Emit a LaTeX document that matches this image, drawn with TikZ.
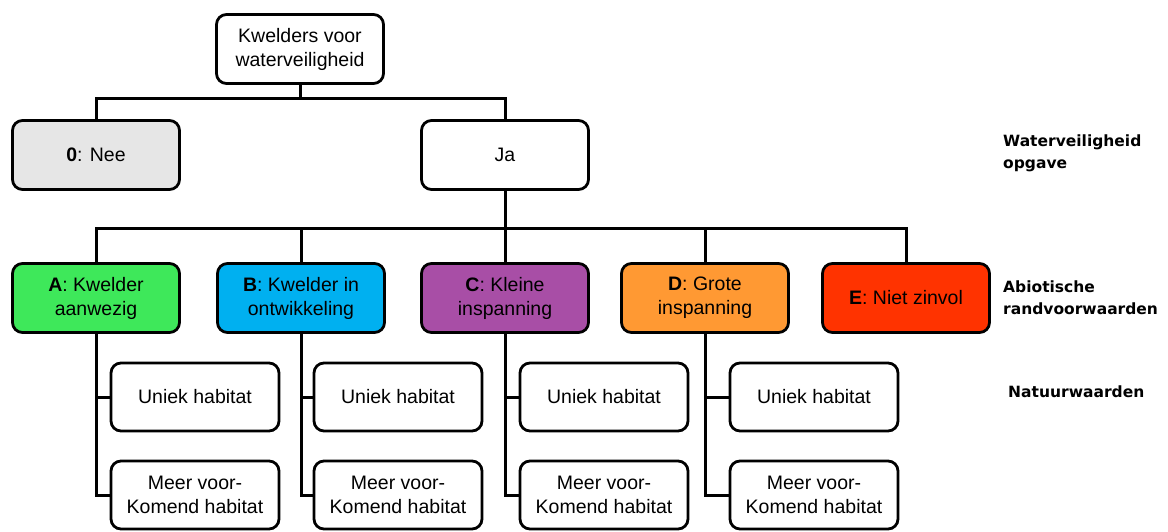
\documentclass[tikz,border=0pt]{standalone}
\usepackage{fontspec}
\setmainfont{Liberation Sans}
\newfontfamily\rowfont{DejaVu Sans}
\usetikzlibrary{shapes.geometric}

\definecolor{neegray}{RGB}{230,230,230}
\definecolor{agreen}{RGB}{62,232,90}
\definecolor{bblue}{RGB}{0,176,240}
\definecolor{cpurple}{RGB}{168,78,166}
\definecolor{dorange}{RGB}{255,153,51}
\definecolor{ered}{RGB}{255,51,0}

\begin{document}
\begin{tikzpicture}[x=1pt,y=-1pt]
\tikzstyle{block} = [rectangle, draw=black, line width=2.8pt, fill=white,
rounded corners=10pt, minimum width=167pt, minimum height=69pt,
align=center, font=\fontsize{19.5}{24}\selectfont]
\tikzstyle{sub} = [block, minimum width=168pt, minimum height=68pt]
\tikzstyle{line} = [draw=black, line width=3pt];
\tikzstyle{rowlabel} = [anchor=west, align=left, inner sep=0pt,
font=\rowfont\bfseries\fontsize{15.5}{22}\selectfont]
\useasboundingbox (0,0) rectangle (1168,531);
% row 1
\node [block] (top) at (300,49) {Kwelders voor\\waterveiligheid};
% row 2
\node [block, fill=neegray] (nee) at (96,155) {\textbf{0}: Nee};
\node [block] (ja) at (505,155) {Ja};
% row 3
\node [block, fill=agreen] (a) at (96,298) {\textbf{A}: Kwelder\\aanwezig};
\node [block, fill=bblue] (b) at (301,298) {\textbf{B}: Kwelder in\\ontwikkeling};
\node [block, fill=cpurple] (c) at (505,298) {\textbf{C}: Kleine\\inspanning};
\node [block, fill=dorange] (d) at (705,298) {\textbf{D}: Grote\\inspanning};
\node [block, fill=ered] (e) at (906,298) {\textbf{E}: Niet zinvol};
% row 4 and 5
\node [sub] (ua) at (195,397) {Uniek habitat};
\node [sub] (ma) at (195,495) {Meer voor-\\Komend habitat};
\node [sub] (ub) at (398,397) {Uniek habitat};
\node [sub] (mb) at (398,495) {Meer voor-\\Komend habitat};
\node [sub] (uc) at (604,397) {Uniek habitat};
\node [sub] (mc) at (604,495) {Meer voor-\\Komend habitat};
\node [sub] (ud) at (814,397) {Uniek habitat};
\node [sub] (md) at (814,495) {Meer voor-\\Komend habitat};
% labels on the right
\node [rowlabel] (opgave) at (1003,153) {Waterveiligheid\\opgave};
\node [rowlabel] (abiotisch) at (1003,298) {Abiotische\\randvoorwaarden};
\node [rowlabel] (natuur) at (1008,392) {Natuurwaarden};

\coordinate (bar1) at (300,98);
\coordinate (bar2) at (505,228);
\draw [line] (top.south) -- (bar1) -| (nee.north);
\draw [line] (bar1) -| (ja.north);
\draw [line] (ja.south) -- (bar2);
\foreach \k in {a,b,c,d,e}
  \draw [line] (bar2) -| (\k.north);
\foreach \k in {a,b,c,d}
  \draw [line] (\k.south) |- (u\k.west) (\k.south) |- (m\k.west);
\end{tikzpicture}
\end{document}
